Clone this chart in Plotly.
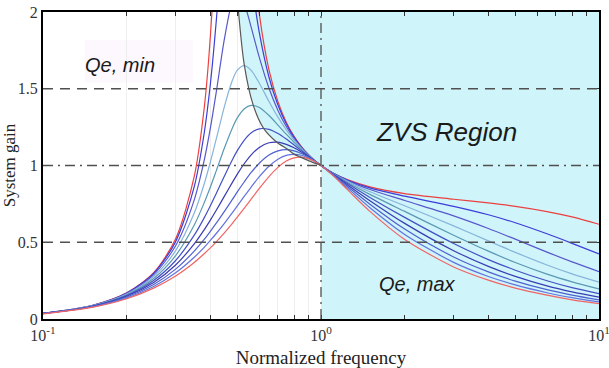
import plotly.graph_objects as go

# ---------------- data ----------------
FN = [0.1, 0.15, 0.2, 0.25, 0.3, 0.35, 0.38, 0.4, 0.42, 0.45, 0.48, 0.5, 0.53, 0.56,
      0.6, 0.65, 0.7, 0.75, 0.8, 0.85, 0.9, 0.95, 1.0, 1.1, 1.25, 1.5, 2, 3, 4, 5, 6.5, 8, 10]

Q_LABELS = ["0.1", "0.2", "0.3", "0.4", "0.5", "0.6", "0.7", "0.8", "0.9", "1.0"]

GAIN_Q01 = [0.037, 0.088, 0.170, 0.302, 0.523, 0.929, 1.373, 1.844, 2.582, 4.608, 6.0, 4.828, 3.323, 2.537,
            1.986, 1.623, 1.416, 1.282, 1.190, 1.123, 1.072, 1.032, 1.0, 0.953, 0.906, 0.861, 0.817, 0.780, 0.756, 0.734, 0.700, 0.665, 0.617]
GAIN_Q02 = [0.037, 0.087, 0.169, 0.297, 0.504, 0.862, 1.210, 1.531, 1.941, 2.660, 3.087, 3.010, 2.619, 2.234,
            1.865, 1.575, 1.394, 1.272, 1.185, 1.120, 1.071, 1.032, 1.0, 0.952, 0.904, 0.854, 0.800, 0.734, 0.679, 0.627, 0.555, 0.493, 0.424]
GAIN_Q03 = [0.036, 0.086, 0.166, 0.288, 0.477, 0.776, 1.033, 1.243, 1.478, 1.831, 2.070, 2.118, 2.050, 1.905,
            1.704, 1.503, 1.359, 1.254, 1.176, 1.117, 1.069, 1.031, 1.0, 0.951, 0.900, 0.844, 0.772, 0.672, 0.590, 0.520, 0.436, 0.372, 0.309]
GAIN_Q04 = [0.036, 0.085, 0.162, 0.277, 0.445, 0.690, 0.880, 1.023, 1.173, 1.389, 1.555, 1.621, 1.651, 1.621,
            1.536, 1.417, 1.315, 1.232, 1.165, 1.111, 1.067, 1.031, 1.0, 0.950, 0.895, 0.829, 0.738, 0.607, 0.509, 0.434, 0.352, 0.294, 0.240]
GAIN_Q05 = [0.036, 0.084, 0.158, 0.264, 0.413, 0.612, 0.757, 0.860, 0.965, 1.117, 1.245, 1.310, 1.370, 1.392,
            1.378, 1.326, 1.263, 1.204, 1.151, 1.105, 1.065, 1.030, 1.0, 0.949, 0.888, 0.812, 0.701, 0.546, 0.442, 0.368, 0.292, 0.242, 0.196]
GAIN_Q06 = [0.036, 0.083, 0.153, 0.251, 0.381, 0.546, 0.659, 0.738, 0.818, 0.934, 1.038, 1.097, 1.166, 1.212,
            1.239, 1.235, 1.208, 1.172, 1.134, 1.097, 1.062, 1.030, 1.0, 0.947, 0.881, 0.792, 0.662, 0.492, 0.387, 0.318, 0.249, 0.204, 0.165]
GAIN_Q07 = [0.036, 0.081, 0.148, 0.238, 0.352, 0.489, 0.581, 0.644, 0.708, 0.802, 0.890, 0.944, 1.013, 1.068,
            1.118, 1.148, 1.152, 1.138, 1.116, 1.088, 1.059, 1.029, 1.0, 0.945, 0.872, 0.771, 0.623, 0.445, 0.343, 0.278, 0.216, 0.177, 0.142]
GAIN_Q08 = [0.035, 0.080, 0.143, 0.225, 0.325, 0.442, 0.518, 0.571, 0.624, 0.703, 0.779, 0.828, 0.894, 0.953,
            1.015, 1.068, 1.095, 1.103, 1.095, 1.078, 1.055, 1.028, 1.0, 0.943, 0.862, 0.748, 0.586, 0.404, 0.307, 0.247, 0.191, 0.156, 0.125]
GAIN_Q09 = [0.035, 0.078, 0.137, 0.212, 0.301, 0.402, 0.467, 0.512, 0.557, 0.625, 0.693, 0.737, 0.800, 0.858,
            0.927, 0.995, 1.041, 1.066, 1.073, 1.067, 1.050, 1.027, 1.0, 0.940, 0.851, 0.725, 0.551, 0.369, 0.277, 0.222, 0.171, 0.139, 0.111]
GAIN_Q10 = [0.034, 0.076, 0.132, 0.201, 0.280, 0.368, 0.425, 0.463, 0.503, 0.563, 0.623, 0.664, 0.723, 0.780,
            0.851, 0.928, 0.988, 1.029, 1.050, 1.055, 1.045, 1.026, 1.0, 0.937, 0.840, 0.701, 0.518, 0.339, 0.253, 0.201, 0.155, 0.125, 0.100]

# locus of the gain peaks (boundary of the ZVS region, left of fn = 1)
LOCUS_FN = [0.505, 0.53, 0.57, 0.62, 0.69, 0.76, 0.80, 0.84, 0.92, 1.0]
LOCUS_G = [2.0, 1.652, 1.395, 1.245, 1.155, 1.104, 1.074, 1.056, 1.025, 1.0]

# outline of the shaded ZVS region: locus, then right part of the plot
ZVS_FN = LOCUS_FN + [1.0, 10, 10]
ZVS_G = LOCUS_G + [0.0, 0.0, 2.0]

X_TICKS = [0.1, 0.2, 0.3, 0.4, 0.5, 0.6, 0.7, 0.8, 0.9, 1, 2, 3, 4, 5, 6, 7, 8, 9, 10]
X_TICK_TEXT = ["10<sup>-1</sup>"] + [""] * 8 + ["10<sup>0</sup>"] + [""] * 8 + ["10<sup>1</sup>"]
Y_TICKS = [0, 0.5, 1, 1.5, 2]
Y_TICK_TEXT = ["0", "0.5", "1", "1.5", "2"]

GAINS = [GAIN_Q01, GAIN_Q02, GAIN_Q03, GAIN_Q04, GAIN_Q05,
         GAIN_Q06, GAIN_Q07, GAIN_Q08, GAIN_Q09, GAIN_Q10]
COLORS = ["#ec4040", "#3c3cd8", "#5858cc", "#86b4dc", "#5a98b4",
          "#4450c4", "#3a3ab4", "#5060d0", "#6272de", "#f06464"]

SERIF = "Liberation Serif, Times New Roman, serif"
SANS = "Liberation Sans, Arial, sans-serif"

fig = go.Figure()

# shaded ZVS region
fig.add_trace(go.Scatter(x=ZVS_FN, y=ZVS_G, mode="lines", fill="toself",
                         fillcolor="#cff4f9", line=dict(width=0),
                         hoverinfo="skip", showlegend=False))

# gain curves
for q, g, c in zip(Q_LABELS, GAINS, COLORS):
    fig.add_trace(go.Scatter(x=FN, y=g, mode="lines", name="Q=" + q,
                             line=dict(color=c, width=1.2, shape="spline", smoothing=0.8),
                             showlegend=False))

# peak locus
fig.add_trace(go.Scatter(x=LOCUS_FN, y=LOCUS_G, mode="lines",
                         line=dict(color="#585858", width=1.2, shape="spline", smoothing=0.8),
                         showlegend=False))

shapes = [
    dict(type="rect", xref="paper", yref="paper", x0=0.075, x1=0.27, y0=0.77, y1=0.91,
         fillcolor="#fdf8fd", line=dict(width=0), layer="below"),
    dict(type="line", xref="paper", yref="y", x0=0, x1=1, y0=0.5, y1=0.5,
         line=dict(color="#505050", width=1.3, dash="10px,7px"), layer="above"),
    dict(type="line", xref="paper", yref="y", x0=0, x1=1, y0=1.5, y1=1.5,
         line=dict(color="#505050", width=1.3, dash="10px,7px"), layer="above"),
    dict(type="line", xref="paper", yref="y", x0=0, x1=1, y0=1.0, y1=1.0,
         line=dict(color="#505050", width=1.3, dash="10px,5px,2px,5px"), layer="above"),
    dict(type="line", xref="paper", yref="paper", x0=0.5, x1=0.5, y0=0, y1=1,
         line=dict(color="#505050", width=1.3, dash="10px,5px,2px,5px"), layer="above"),
]

annotations = [
    dict(text="<i>Qe, min</i>", xref="paper", yref="paper", x=0.1385, y=0.827,
         xanchor="center", yanchor="middle",
         showarrow=False, font=dict(family=SANS, size=20, color="#1a1a1a")),
    dict(text="<i>ZVS Region</i>", xref="paper", yref="paper", x=0.7266, y=0.609,
         xanchor="center", yanchor="middle",
         showarrow=False, font=dict(family=SANS, size=26, color="#1a1a1a")),
    dict(text="<i>Qe, max</i>", xref="paper", yref="paper", x=0.674, y=0.114,
         xanchor="center", yanchor="middle",
         showarrow=False, font=dict(family=SANS, size=20, color="#1a1a1a")),
]

fig.update_layout(
    width=609, height=368,
    margin=dict(l=43, r=10, t=12, b=49),
    paper_bgcolor="white", plot_bgcolor="white",
    shapes=shapes, annotations=annotations,
    showlegend=False,
)

fig.update_xaxes(type="log", range=[-1, 1], automargin=False,
                 tickvals=X_TICKS, ticktext=X_TICK_TEXT,
                 ticks="inside", ticklen=4, tickcolor="#333", tickwidth=1,
                 ticklabelstandoff=1, ticklabeloverflow="allow",
                 showline=True, linewidth=2, linecolor="black", mirror="allticks",
                 showgrid=True, gridcolor="#eeeeee", gridwidth=1, zeroline=False,
                 tickfont=dict(family=SERIF, size=16, color="#333"),
                 title=dict(text="Normalized frequency", standoff=9,
                            font=dict(family=SERIF, size=19, color="#222")))

fig.update_yaxes(range=[0, 2], automargin=False,
                 tickvals=Y_TICKS, ticktext=Y_TICK_TEXT,
                 ticks="inside", ticklen=4, tickcolor="#333", tickwidth=1,
                 showline=True, linewidth=2, linecolor="black", mirror="allticks",
                 showgrid=False, zeroline=False,
                 tickfont=dict(family=SERIF, size=16, color="#333"),
                 title=dict(text="System gain", standoff=2,
                            font=dict(family=SERIF, size=17, color="#222")))

fig.write_html("out.html")
